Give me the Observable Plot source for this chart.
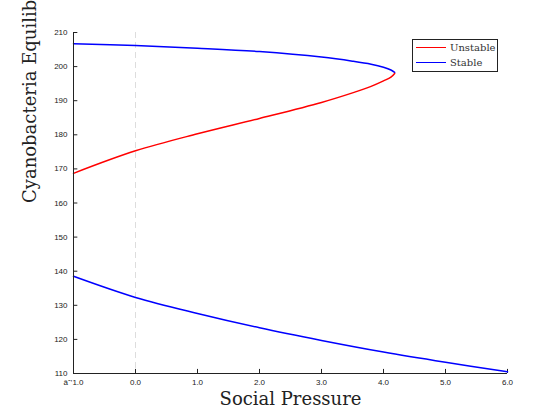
<!DOCTYPE html>
<html>
<head>
<script src="https://cdn.jsdelivr.net/npm/d3@7"></script>
<script src="https://cdn.jsdelivr.net/npm/@observablehq/plot@0.6"></script>
<style>
body { margin: 0; background: #fff; }
#wrap { position: relative; width: 560px; height: 420px; }
#legend { position: absolute; left: 412px; top: 39px; width: 84px; height: 31px; border: 1px solid #222; background: #fff;
  font-family: "DejaVu Serif", "Liberation Serif", serif; font-size: 10px; color: #333; }
#legend div { display: flex; align-items: center; height: 15px; padding-left: 3px; }
#legend span.l { display: inline-block; width: 30px; height: 0; margin-right: 4px; }
</style>
</head>
<body>
<div id="wrap"><div id="chart"></div>
<div id="legend">
  <div><span class="l" style="border-top:1.5px solid #f00"></span>Unstable</div>
  <div><span class="l" style="border-top:1.5px solid #00f"></span>Stable</div>
</div></div>
<script>
// ramas del equilibrio
const upperX = [-1, 0, 1, 2, 3, 3.5, 3.8, 4.0, 4.12, 4.18]
const upperY = [206.7, 206.2, 205.4, 204.4, 202.8, 201.6, 200.7, 199.8, 199.0, 198.3]
const unstX = [-1, 0, 1, 2, 3, 3.5, 3.8, 4.0, 4.12, 4.18]
const unstY = [168.7, 175.3, 180.3, 184.8, 189.5, 192.3, 194.2, 195.8, 196.9, 198.0]
const lowerX = [-1, 0, 1, 2, 3, 4, 5, 6]
const lowerY = [138.5, 132.3, 127.6, 123.4, 119.7, 116.3, 113.3, 110.5]
const xTicks = d3.range(-1, 7)
const yTicks = d3.range(110, 211, 10)

const pts = (xs, ys) => xs.map((x, i) => ({x, y: ys[i]}))

let chart = Plot.plot({
  width: 560,
  height: 420,
  marginLeft: 73,
  marginRight: 53,
  marginTop: 32,
  marginBottom: 47,
  style: {fontFamily: "Liberation Sans, Helvetica, sans-serif", fontSize: "8px", color: "#222"},
  x: {type: "linear", domain: [-1, 6], ticks: xTicks, tickSize: 0, tickPadding: 6, label: null},
  y: {type: "linear", domain: [110, 210], ticks: yTicks, tickSize: 0, tickPadding: 6, label: null},
  marks: [
    Plot.ruleX([0], {stroke: "#ddd", strokeDasharray: "6,4"}),
    Plot.ruleX(xTicks, {x: d => d, y1: 110, y2: 111.2, stroke: "#222"}),
    Plot.ruleY(yTicks, {y: d => d, x1: -1, x2: -0.93, stroke: "#222"}),
    Plot.line(pts(upperX, upperY), {x: "x", y: "y", stroke: "blue", curve: "catmull-rom"}),
    Plot.line(pts(unstX, unstY), {x: "x", y: "y", stroke: "red", curve: "catmull-rom"}),
    Plot.line(pts(lowerX, lowerY), {x: "x", y: "y", stroke: "blue", curve: "catmull-rom"}),
    Plot.ruleX([-1], {stroke: "#222"}),
    Plot.ruleY([110], {stroke: "#222"}),
    Plot.text(["Social Pressure"], {frameAnchor: "bottom", dy: 31, fontSize: 18, fontFamily: "DejaVu Serif, serif", fill: "#222"}),
    Plot.text(["Cyanobacteria Equilibrium"], {frameAnchor: "left", dx: -43, rotate: -90, fontSize: 18, fontFamily: "DejaVu Serif, serif", fill: "#222"})
  ]
})
d3.select('#chart').append(() => chart)
</script>
</body>
</html>
